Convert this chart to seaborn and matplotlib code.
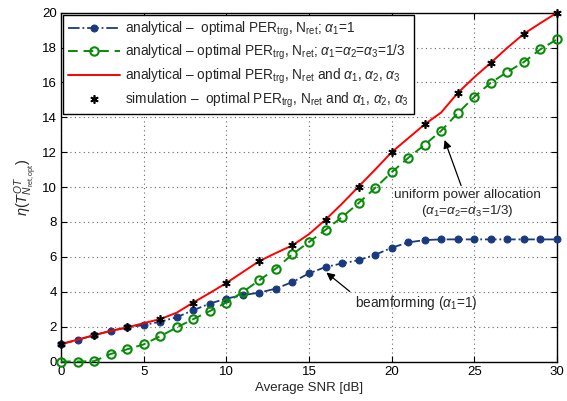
import numpy as np
import pandas as pd
import matplotlib
matplotlib.use("Agg")
import matplotlib.pyplot as plt
import seaborn as sns

snr = list(range(0, 31))
beamforming = [1.0, 1.23, 1.51, 1.76, 1.95, 2.09, 2.28, 2.54, 2.94, 3.32, 3.61, 3.8, 3.95, 4.18,
               4.56, 5.05, 5.42, 5.62, 5.81, 6.12, 6.52, 6.83, 6.96, 7.0, 7.0, 7.0, 7.0, 7.0,
               7.0, 7.0, 7.0]
uniform = [0.0, 0.0, 0.02, 0.43, 0.7, 0.98, 1.45, 1.95, 2.43, 2.89, 3.38, 3.99, 4.66, 5.33,
           6.15, 6.85, 7.55, 8.28, 9.08, 9.95, 10.85, 11.67, 12.43, 13.23, 14.24, 15.17,
           15.99, 16.6, 17.17, 17.9, 18.47]
optimal = [1.0, 1.25, 1.51, 1.75, 1.95, 2.2, 2.43, 2.8, 3.38, 3.93, 4.5, 5.13, 5.76, 6.22,
           6.66, 7.3, 8.13, 9.05, 10.03, 11.0, 12.0, 12.8, 13.6, 14.28, 15.4, 16.3, 17.13,
           17.99, 18.79, 19.4, 20.0]
sim_snr = list(range(0, 31, 2))
simulation = [1.0, 1.51, 1.95, 2.43, 3.38, 4.5, 5.76, 6.66, 8.13, 10.03, 12.0, 13.6, 15.4,
              17.13, 18.79, 20.0]

labels = [
    r"analytical –  optimal PER$_{\mathrm{trg}}$, N$_{\mathrm{ret}}$; $\alpha_1$=1",
    r"analytical – optimal PER$_{\mathrm{trg}}$, N$_{\mathrm{ret}}$; $\alpha_1$=$\alpha_2$=$\alpha_3$=1/3",
    r"analytical – optimal PER$_{\mathrm{trg}}$, N$_{\mathrm{ret}}$ and $\alpha_1$, $\alpha_2$, $\alpha_3$",
    r"simulation –  optimal PER$_{\mathrm{trg}}$, N$_{\mathrm{ret}}$ and $\alpha_1$, $\alpha_2$, $\alpha_3$",
]

sns.set_theme(style="white")
plt.rcParams["font.family"] = ["Liberation Sans", "DejaVu Sans"]
plt.rcParams["mathtext.fontset"] = "custom"
plt.rcParams["mathtext.rm"] = "Liberation Sans"
plt.rcParams["mathtext.it"] = "Liberation Sans:italic"
plt.rcParams["mathtext.sf"] = "Liberation Sans"

fig = plt.figure(figsize=(5.67, 4.01), dpi=100)
ax = fig.add_axes([0.1076, 0.0985, 0.8748, 0.870])

df = pd.DataFrame({"snr": snr, "bf": beamforming, "uni": uniform, "opt": optimal})
dfs = pd.DataFrame({"snr": sim_snr, "sim": simulation})

blue = "#1a3a80"
green = "#0a8a0a"

sns.lineplot(data=df, x="snr", y="bf", ax=ax, color=blue, linestyle="-.", linewidth=1.3,
             marker="o", markersize=5, markerfacecolor=blue, markeredgecolor=blue,
             label=labels[0], clip_on=False, zorder=3)
sns.lineplot(data=df, x="snr", y="uni", ax=ax, color=green, linestyle=(0, (5, 3)), linewidth=1.4,
             marker="o", markersize=6, markerfacecolor="none", markeredgecolor=green,
             markeredgewidth=1.5, label=labels[1], clip_on=False, zorder=3)
sns.lineplot(data=df, x="snr", y="opt", ax=ax, color="#ff0000", linewidth=1.4,
             label=labels[2], clip_on=False, zorder=4)
sns.lineplot(data=dfs, x="snr", y="sim", ax=ax, color="black", linestyle="none",
             marker=(6, 2, 0), markersize=6, markeredgewidth=1.2, markeredgecolor="black",
             label=labels[3], clip_on=False, zorder=5)

ax.set_xlim(0, 30)
ax.set_ylim(0, 20)
ax.set_xticks(range(0, 31, 5))
ax.set_yticks(range(0, 21, 2))
ax.grid(True, linestyle=(0, (1, 3)), color="#666666", linewidth=0.8)
for s in ax.spines.values():
    s.set_color("black")
    s.set_linewidth(1.0)
ax.tick_params(direction="in", length=4, width=0.8, colors="black", labelsize=9.5,
               top=True, right=True, bottom=True, left=True, pad=3)

ax.set_xlabel("Average SNR [dB]", fontsize=9.5, labelpad=3)
ax.set_ylabel(r"$\eta(T^{OT}_{N_{\mathrm{ret,opt}}})$", fontsize=10.5, labelpad=2)

leg = ax.legend(loc="upper left", fontsize=9.8, frameon=True, fancybox=False,
                edgecolor="black", framealpha=1, handlelength=3.8, numpoints=1,
                borderaxespad=0.15, labelspacing=0.32, handletextpad=0.4, borderpad=0.35)
leg.get_frame().set_linewidth(1.0)

ax.annotate("uniform power allocation\n" + r"($\alpha_1$=$\alpha_2$=$\alpha_3$=1/3)",
            xy=(23.2, 12.7), xytext=(24.6, 9.9), fontsize=9.7, ha="center", va="top",
            multialignment="center",
            arrowprops=dict(arrowstyle="-|>", color="black", lw=0.9, mutation_scale=12,
                            shrinkA=0, shrinkB=0))
ax.annotate(r"beamforming ($\alpha_1$=1)", xy=(16.05, 5.1), xytext=(21.5, 3.35),
            fontsize=9.8, ha="center", va="center",
            arrowprops=dict(arrowstyle="-|>", color="black", lw=0.9, mutation_scale=12,
                            shrinkA=2, shrinkB=0, relpos=(0.0, 0.9)))

fig.savefig("out.png", dpi=100)
